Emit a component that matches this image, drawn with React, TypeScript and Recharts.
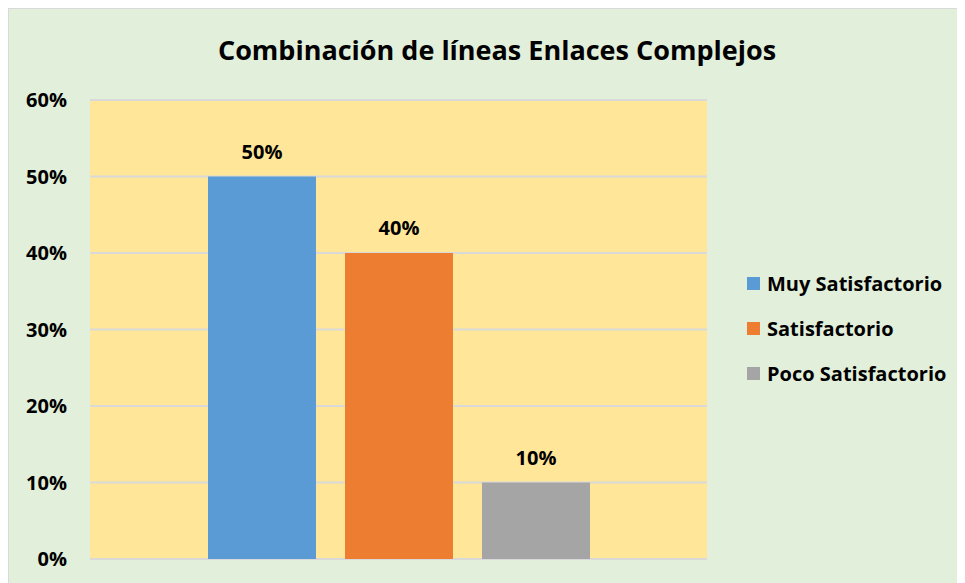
import { BarChart, Bar, XAxis, YAxis, CartesianGrid, Legend, LabelList } from 'recharts';

const categories = ['Enlaces Complejos'];
const seriesNames = ['Muy Satisfactorio', 'Satisfactorio', 'Poco Satisfactorio'];
const seriesKeys = ['muy', 'sat', 'poco'];
const seriesValues = [0.5, 0.4, 0.1];
const seriesColors = ['#5B9BD5', '#ED7D31', '#A5A5A5'];
const yTicks = [0, 0.1, 0.2, 0.3, 0.4, 0.5, 0.6];

const data = categories.map((name) => {
  const row: Record<string, string | number> = { name };
  seriesKeys.forEach((k, i) => {
    row[k] = seriesValues[i];
  });
  return row;
});

const FONT = '"Open Sans", Lato, sans-serif';
const pct = (v: unknown) => `${Math.round(Number(v) * 100)}%`;

function LegendBox() {
  return (
    <div style={{ fontFamily: FONT, fontWeight: 700, fontSize: 20, color: '#000' }}>
      {seriesNames.map((n, i) => (
        <div key={n} style={{ display: 'flex', alignItems: 'center', height: 45 }}>
          <span style={{ width: 13, height: 13, background: seriesColors[i], marginRight: 7 }} />
          <span>{n}</span>
        </div>
      ))}
    </div>
  );
}

export default function App() {
  return (
    <div
      style={{
        position: 'relative',
        width: 957,
        height: 575,
        background: '#E2EFDA',
        borderTop: '1px solid #D9D9D9',
        borderLeft: '1px solid #D9D9D9',
        boxSizing: 'border-box',
        fontFamily: FONT,
      }}
    >
      <div
        style={{
          position: 'absolute',
          top: 22,
          left: 0,
          width: 976,
          textAlign: 'center',
          fontSize: 27,
          fontWeight: 700,
          color: '#000',
        }}
      >
        Combinación de líneas Enlaces Complejos
      </div>
      <BarChart
        width={956}
        height={574}
        data={data}
        margin={{ top: 91, right: 258, left: 0, bottom: 24 }}
        barSize={108}
        barGap={29}
      >
        <CartesianGrid vertical={false} fill="#FFE699" stroke="#D9D9D9" strokeWidth={2} />
        <XAxis dataKey="name" hide />
        <YAxis
          width={81}
          domain={[0, 0.6]}
          ticks={yTicks}
          tickFormatter={pct}
          axisLine={false}
          tickLine={false}
          tickSize={0}
          tickMargin={23}
          tick={{ fontSize: 20, fontWeight: 700, fill: '#000', fontFamily: FONT }}
        />
        <Legend
          layout="horizontal"
          verticalAlign="middle"
          align="center"
          content={<LegendBox />}
          wrapperStyle={{ left: 738, top: 252, width: 'auto' }}
        />
        {seriesKeys.map((k, i) => (
          <Bar key={k} dataKey={k} name={seriesNames[i]} fill={seriesColors[i]} isAnimationActive={false}>
            <LabelList
              dataKey={k}
              position="top"
              offset={18}
              formatter={pct}
              style={{ fontSize: 20, fontWeight: 700, fill: '#000', fontFamily: FONT }}
            />
          </Bar>
        ))}
      </BarChart>
    </div>
  );
}
